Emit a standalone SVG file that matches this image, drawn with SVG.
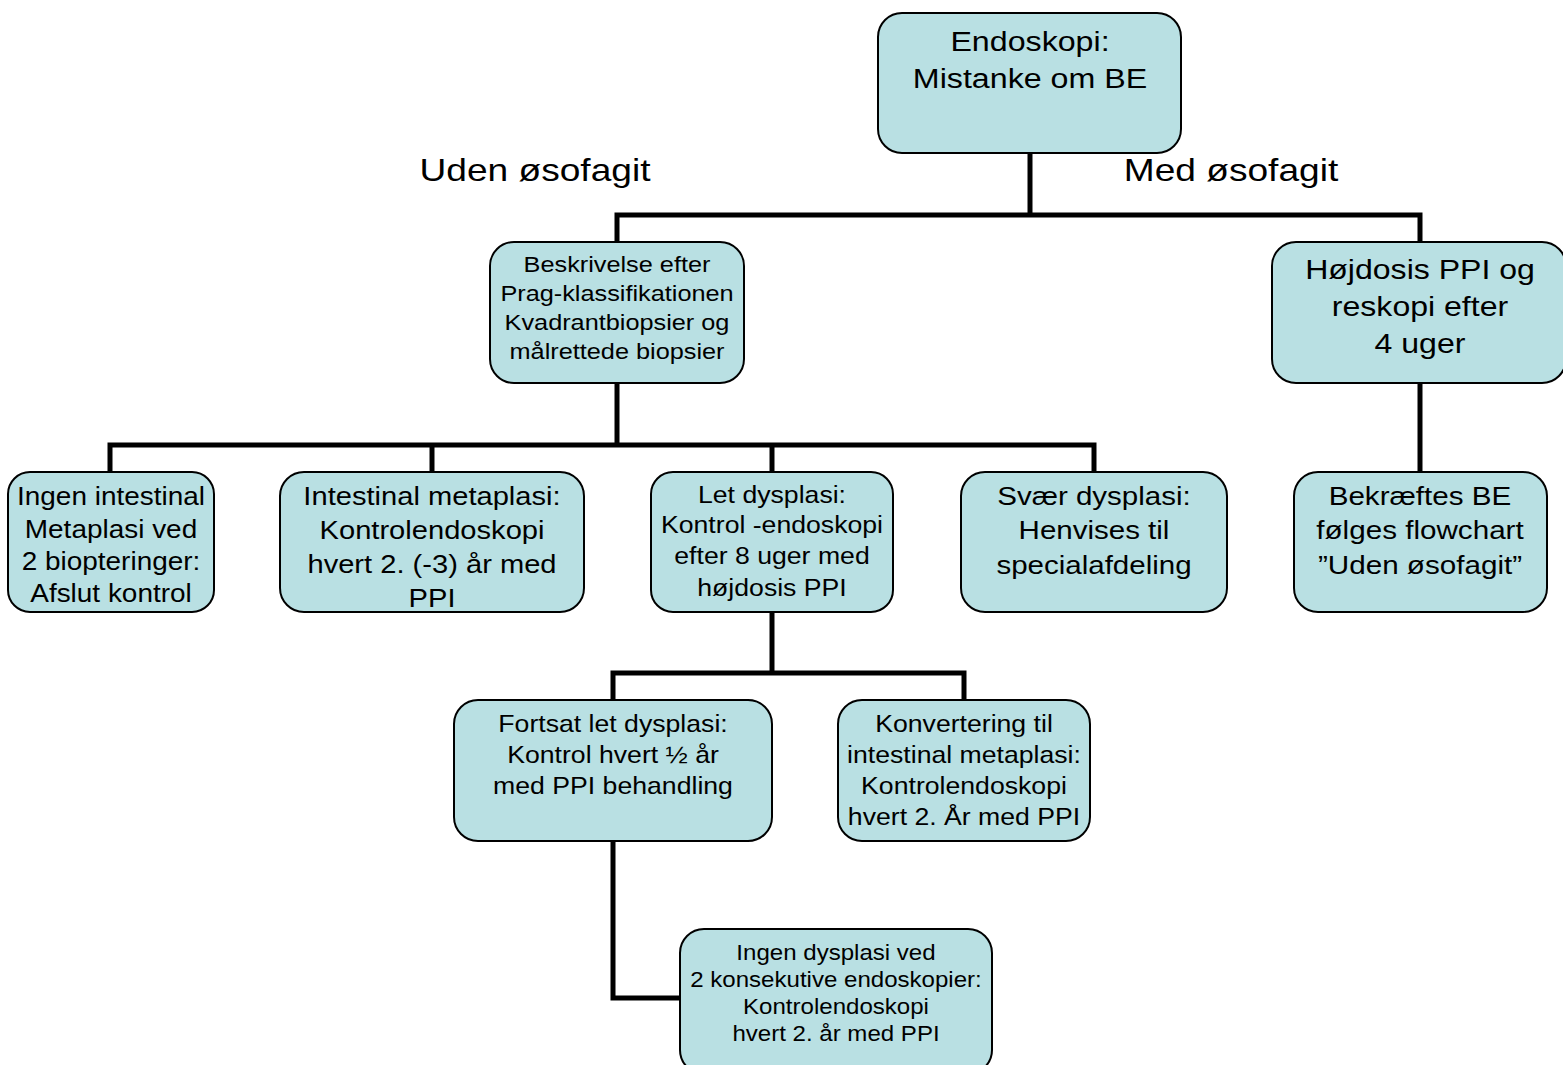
<svg xmlns="http://www.w3.org/2000/svg" width="1563" height="1065" viewBox="0 0 1563 1065">
<style>
.box{fill:#B9E0E3;stroke:#000;stroke-width:2}
text{font-family:"Liberation Sans",Arial,sans-serif;fill:#000;text-anchor:middle}
.c{fill:none;stroke:#000;stroke-width:5;stroke-linejoin:miter}
</style>
<rect width="1563" height="1065" fill="#fff"/>
<g id="connectors">
<polyline class="c" points="1030,153 1030,215"/>
<polyline class="c" points="617,242 617,215 1420,215 1420,242"/>
<polyline class="c" points="617,383 617,445"/>
<polyline class="c" points="110,472 110,445 1094,445 1094,472"/>
<polyline class="c" points="432,445 432,472"/>
<polyline class="c" points="772,445 772,472"/>
<polyline class="c" points="1420,383 1420,472"/>
<polyline class="c" points="772,612 772,673"/>
<polyline class="c" points="613,700 613,673 964,673 964,700"/>
<polyline class="c" points="613,841 613,998 680,998"/>
</g>
<g id="label-uden"><g transform="translate(535 0) scale(1.16 1)"><text x="0" y="181" font-size="32">Uden øsofagit</text></g></g>
<g id="label-med"><g transform="translate(1231 0) scale(1.16 1)"><text x="0" y="181" font-size="32">Med øsofagit</text></g></g>
<g id="n-endoskopi">
<rect class="box" x="878" y="13" width="303" height="140" rx="24"/>
<g transform="translate(1030 0) scale(1.15 1)">
<text x="0" y="51" font-size="28">Endoskopi:</text>
<text x="0" y="88" font-size="28">Mistanke om BE</text>
</g>
</g>
<g id="n-beskrivelse">
<rect class="box" x="490" y="242" width="254" height="141" rx="24"/>
<g transform="translate(617 0) scale(1.15 1)">
<text x="0" y="272" font-size="22">Beskrivelse efter</text>
<text x="0" y="301" font-size="22">Prag-klassifikationen</text>
<text x="0" y="330" font-size="22">Kvadrantbiopsier og</text>
<text x="0" y="359" font-size="22">målrettede biopsier</text>
</g>
</g>
<g id="n-hojdosis">
<rect class="box" x="1272" y="242" width="294" height="141" rx="24"/>
<g transform="translate(1420 0) scale(1.145 1)">
<text x="0" y="279" font-size="28">Højdosis PPI og</text>
<text x="0" y="316" font-size="28">reskopi efter</text>
<text x="0" y="353" font-size="28">4 uger</text>
</g>
</g>
<g id="n-ingen-intestinal">
<rect class="box" x="8" y="472" width="206" height="140" rx="22"/>
<g transform="translate(111 0) scale(1.075 1)">
<text x="0" y="505" font-size="26">Ingen intestinal</text>
<text x="0" y="538" font-size="26">Metaplasi ved</text>
<text x="0" y="570" font-size="26">2 biopteringer:</text>
<text x="0" y="602" font-size="26">Afslut kontrol</text>
</g>
</g>
<g id="n-intestinal">
<rect class="box" x="280" y="472" width="304" height="140" rx="24"/>
<g transform="translate(432 0) scale(1.12 1)">
<text x="0" y="505" font-size="26">Intestinal metaplasi:</text>
<text x="0" y="539" font-size="26">Kontrolendoskopi</text>
<text x="0" y="573" font-size="26">hvert 2. (-3) år med</text>
<text x="0" y="607" font-size="26">PPI</text>
</g>
</g>
<g id="n-let">
<rect class="box" x="651" y="472" width="242" height="140" rx="22"/>
<g transform="translate(772 0) scale(1.11 1)">
<text x="0" y="503" font-size="24">Let dysplasi:</text>
<text x="0" y="533" font-size="24">Kontrol -endoskopi</text>
<text x="0" y="564" font-size="24">efter 8 uger med</text>
<text x="0" y="596" font-size="24">højdosis PPI</text>
</g>
</g>
<g id="n-svaer">
<rect class="box" x="961" y="472" width="266" height="140" rx="24"/>
<g transform="translate(1094 0) scale(1.135 1)">
<text x="0" y="505" font-size="26">Svær dysplasi:</text>
<text x="0" y="539" font-size="26">Henvises til</text>
<text x="0" y="574" font-size="26">specialafdeling</text>
</g>
</g>
<g id="n-bekraeftes">
<rect class="box" x="1294" y="472" width="253" height="140" rx="24"/>
<g transform="translate(1420 0) scale(1.14 1)">
<text x="0" y="505" font-size="26">Bekræftes BE</text>
<text x="0" y="539" font-size="26">følges flowchart</text>
<text x="0" y="574" font-size="26">”Uden øsofagit”</text>
</g>
</g>
<g id="n-fortsat">
<rect class="box" x="454" y="700" width="318" height="141" rx="24"/>
<g transform="translate(613 0) scale(1.11 1)">
<text x="0" y="732" font-size="24">Fortsat let dysplasi:</text>
<text x="0" y="763" font-size="24">Kontrol hvert ½ år</text>
<text x="0" y="794" font-size="24">med PPI behandling</text>
</g>
</g>
<g id="n-konvertering">
<rect class="box" x="838" y="700" width="252" height="141" rx="24"/>
<g transform="translate(964 0) scale(1.11 1)">
<text x="0" y="732" font-size="24">Konvertering til</text>
<text x="0" y="763" font-size="24">intestinal metaplasi:</text>
<text x="0" y="794" font-size="24">Kontrolendoskopi</text>
<text x="0" y="825" font-size="24">hvert 2. År med PPI</text>
</g>
</g>
<g id="n-ingen-dysplasi">
<rect class="box" x="680" y="929" width="312" height="145" rx="24"/>
<g transform="translate(836 0) scale(1.094 1)">
<text x="0" y="960" font-size="22">Ingen dysplasi ved</text>
<text x="0" y="987" font-size="22">2 konsekutive endoskopier:</text>
<text x="0" y="1014" font-size="22">Kontrolendoskopi</text>
<text x="0" y="1041" font-size="22">hvert 2. år med PPI</text>
</g>
</g>
</svg>
